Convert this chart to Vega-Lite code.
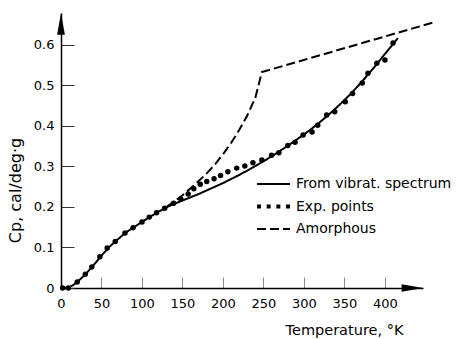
{
  "$schema": "https://vega.github.io/schema/vega-lite/v6.json",
  "width": 362,
  "height": 275,
  "autosize": "none",
  "padding": {"left": 61, "top": 13, "right": 43, "bottom": 51},
  "background": "white",
  "config": {
    "font": "DejaVu Sans",
    "view": {"stroke": null},
    "axis": {"grid": false, "domainColor": "black", "domainWidth": 1.5, "labelColor": "black", "titleColor": "black", "titleFontWeight": "normal", "labelFontSize": 13, "titleFontSize": 13}
  },
  "datasets": {
    "curves": [
      {"T": 5, "Cp": 0, "series": "From vibrat. spectrum"},
      {"T": 10, "Cp": 0.002, "series": "From vibrat. spectrum"},
      {"T": 15, "Cp": 0.007, "series": "From vibrat. spectrum"},
      {"T": 20, "Cp": 0.015, "series": "From vibrat. spectrum"},
      {"T": 30, "Cp": 0.033, "series": "From vibrat. spectrum"},
      {"T": 40, "Cp": 0.056, "series": "From vibrat. spectrum"},
      {"T": 50, "Cp": 0.08, "series": "From vibrat. spectrum"},
      {"T": 60, "Cp": 0.102, "series": "From vibrat. spectrum"},
      {"T": 70, "Cp": 0.12, "series": "From vibrat. spectrum"},
      {"T": 80, "Cp": 0.137, "series": "From vibrat. spectrum"},
      {"T": 90, "Cp": 0.15, "series": "From vibrat. spectrum"},
      {"T": 100, "Cp": 0.163, "series": "From vibrat. spectrum"},
      {"T": 110, "Cp": 0.176, "series": "From vibrat. spectrum"},
      {"T": 120, "Cp": 0.188, "series": "From vibrat. spectrum"},
      {"T": 130, "Cp": 0.199, "series": "From vibrat. spectrum"},
      {"T": 140, "Cp": 0.208, "series": "From vibrat. spectrum"},
      {"T": 150, "Cp": 0.216, "series": "From vibrat. spectrum"},
      {"T": 160, "Cp": 0.224, "series": "From vibrat. spectrum"},
      {"T": 170, "Cp": 0.232, "series": "From vibrat. spectrum"},
      {"T": 180, "Cp": 0.241, "series": "From vibrat. spectrum"},
      {"T": 190, "Cp": 0.25, "series": "From vibrat. spectrum"},
      {"T": 200, "Cp": 0.259, "series": "From vibrat. spectrum"},
      {"T": 210, "Cp": 0.269, "series": "From vibrat. spectrum"},
      {"T": 220, "Cp": 0.279, "series": "From vibrat. spectrum"},
      {"T": 230, "Cp": 0.29, "series": "From vibrat. spectrum"},
      {"T": 240, "Cp": 0.301, "series": "From vibrat. spectrum"},
      {"T": 250, "Cp": 0.313, "series": "From vibrat. spectrum"},
      {"T": 260, "Cp": 0.325, "series": "From vibrat. spectrum"},
      {"T": 270, "Cp": 0.338, "series": "From vibrat. spectrum"},
      {"T": 280, "Cp": 0.351, "series": "From vibrat. spectrum"},
      {"T": 290, "Cp": 0.365, "series": "From vibrat. spectrum"},
      {"T": 300, "Cp": 0.379, "series": "From vibrat. spectrum"},
      {"T": 310, "Cp": 0.394, "series": "From vibrat. spectrum"},
      {"T": 320, "Cp": 0.41, "series": "From vibrat. spectrum"},
      {"T": 330, "Cp": 0.427, "series": "From vibrat. spectrum"},
      {"T": 340, "Cp": 0.445, "series": "From vibrat. spectrum"},
      {"T": 350, "Cp": 0.464, "series": "From vibrat. spectrum"},
      {"T": 360, "Cp": 0.484, "series": "From vibrat. spectrum"},
      {"T": 370, "Cp": 0.506, "series": "From vibrat. spectrum"},
      {"T": 380, "Cp": 0.529, "series": "From vibrat. spectrum"},
      {"T": 390, "Cp": 0.553, "series": "From vibrat. spectrum"},
      {"T": 400, "Cp": 0.578, "series": "From vibrat. spectrum"},
      {"T": 410, "Cp": 0.602, "series": "From vibrat. spectrum"},
      {"T": 416, "Cp": 0.617, "series": "From vibrat. spectrum"},
      {"T": 130, "Cp": 0.2, "series": "Amorphous"},
      {"T": 140, "Cp": 0.214, "series": "Amorphous"},
      {"T": 150, "Cp": 0.229, "series": "Amorphous"},
      {"T": 160, "Cp": 0.246, "series": "Amorphous"},
      {"T": 170, "Cp": 0.264, "series": "Amorphous"},
      {"T": 180, "Cp": 0.283, "series": "Amorphous"},
      {"T": 190, "Cp": 0.305, "series": "Amorphous"},
      {"T": 200, "Cp": 0.33, "series": "Amorphous"},
      {"T": 210, "Cp": 0.358, "series": "Amorphous"},
      {"T": 220, "Cp": 0.39, "series": "Amorphous"},
      {"T": 230, "Cp": 0.426, "series": "Amorphous"},
      {"T": 240, "Cp": 0.47, "series": "Amorphous"},
      {"T": 248, "Cp": 0.533, "series": "Amorphous"},
      {"T": 462, "Cp": 0.657, "series": "Amorphous"}
    ],
    "points": [
      {"T": 2, "Cp": 0},
      {"T": 9, "Cp": 0},
      {"T": 20, "Cp": 0.015},
      {"T": 30, "Cp": 0.034},
      {"T": 38, "Cp": 0.052},
      {"T": 48, "Cp": 0.077},
      {"T": 57, "Cp": 0.099},
      {"T": 67, "Cp": 0.115},
      {"T": 79, "Cp": 0.136},
      {"T": 89, "Cp": 0.149},
      {"T": 100, "Cp": 0.163},
      {"T": 109, "Cp": 0.175},
      {"T": 118, "Cp": 0.186},
      {"T": 128, "Cp": 0.197},
      {"T": 139, "Cp": 0.209},
      {"T": 148, "Cp": 0.22},
      {"T": 157, "Cp": 0.232},
      {"T": 164, "Cp": 0.245},
      {"T": 172, "Cp": 0.256},
      {"T": 180, "Cp": 0.263},
      {"T": 189, "Cp": 0.27},
      {"T": 197, "Cp": 0.278},
      {"T": 206, "Cp": 0.287},
      {"T": 217, "Cp": 0.296},
      {"T": 227, "Cp": 0.301},
      {"T": 237, "Cp": 0.309},
      {"T": 248, "Cp": 0.316},
      {"T": 260, "Cp": 0.328},
      {"T": 269, "Cp": 0.334},
      {"T": 280, "Cp": 0.352},
      {"T": 289, "Cp": 0.36},
      {"T": 299, "Cp": 0.378},
      {"T": 310, "Cp": 0.385},
      {"T": 317, "Cp": 0.402},
      {"T": 328, "Cp": 0.427},
      {"T": 338, "Cp": 0.435},
      {"T": 351, "Cp": 0.46},
      {"T": 360, "Cp": 0.48},
      {"T": 372, "Cp": 0.506},
      {"T": 379, "Cp": 0.53},
      {"T": 390, "Cp": 0.555},
      {"T": 400, "Cp": 0.563},
      {"T": 410, "Cp": 0.605}
    ],
    "arrows": [
      {"T": 0, "Cp": 0.652, "dir": "up"},
      {"T": 434, "Cp": 0.0, "dir": "right"}
    ]
  },
  "layer": [
    {
      "data": {"name": "curves"},
      "mark": {"type": "line", "color": "black", "strokeCap": "butt"},
      "encoding": {
        "x": {"field": "T", "type": "quantitative", "scale": {"domain": [0, 447], "nice": false},
          "axis": {"values": [0, 50, 100, 150, 200, 250, 300, 350, 400], "tickSize": -11, "tickColor": "#888", "tickWidth": 1, "labelPadding": 20, "labelFlush": false,
            "title": "Temperature, °K", "titleFontSize": 14.5, "titleX": 283, "titleY": 46, "titleBaseline": "alphabetic", "titleAlign": "center", "titleAnchor": null}},
        "y": {"field": "Cp", "type": "quantitative", "scale": {"domain": [0, 0.679], "nice": false},
          "axis": {"values": [0, 0.1, 0.2, 0.3, 0.4, 0.5, 0.6], "format": ".1~f", "tickSize": -13, "tickColor": "#333", "tickWidth": 1, "labelPadding": 20, "labelFlush": false,
            "title": "Cp, cal/deg·g", "titleFontSize": 16, "titleX": -46, "titleY": 177, "titleAngle": 270, "titleAlign": "center", "titleBaseline": "middle", "titleAnchor": null}},
        "strokeDash": {"field": "series", "type": "nominal",
          "scale": {"domain": ["From vibrat. spectrum", "Exp. points", "Amorphous"], "range": [[1, 0], [4, 5.67], [9, 4]]},
          "legend": {"title": null, "orient": "none", "legendX": 194, "legendY": 162, "symbolType": "stroke", "symbolSize": 1089, "symbolStrokeColor": "black", "labelFontSize": 14, "labelColor": "black", "labelOffset": 4, "clipHeight": 18, "rowPadding": 4.5, "padding": 0}},
        "strokeWidth": {"field": "series", "type": "nominal",
          "scale": {"type": "ordinal", "domain": ["From vibrat. spectrum", "Exp. points", "Amorphous"], "range": [2, 4, 2]},
          "legend": {"title": null, "orient": "none", "legendX": 194, "legendY": 162, "symbolType": "stroke", "symbolSize": 1089, "symbolStrokeColor": "black", "labelFontSize": 14, "labelColor": "black", "labelOffset": 4, "clipHeight": 18, "rowPadding": 4.5, "padding": 0}}
      }
    },
    {
      "data": {"name": "points"},
      "mark": {"type": "point", "filled": true, "color": "black", "size": 30, "opacity": 1},
      "encoding": {
        "x": {"field": "T", "type": "quantitative"},
        "y": {"field": "Cp", "type": "quantitative"}
      }
    },
    {
      "data": {"name": "arrows"},
      "mark": {"type": "point", "filled": true, "color": "black", "opacity": 1, "size": 470, "zindex": 2},
      "encoding": {
        "x": {"field": "T", "type": "quantitative"},
        "y": {"field": "Cp", "type": "quantitative"},
        "shape": {"field": "dir", "type": "nominal", "legend": null,
          "scale": {"domain": ["up", "right"], "range": ["M0,-1L0.36,1L-0.36,1Z", "M-1,-0.35L1,0L-1,0.35Z"]}}
      }
    }
  ]
}
